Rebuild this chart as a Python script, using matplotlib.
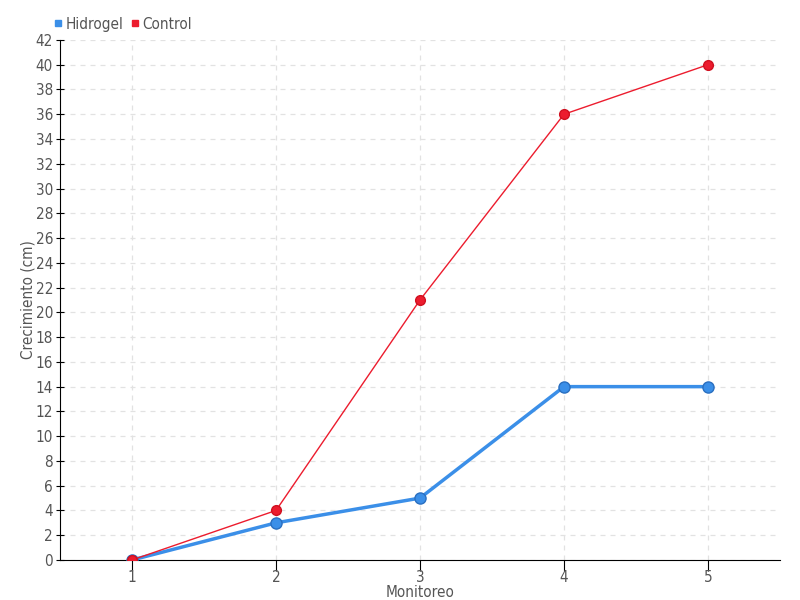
import matplotlib
matplotlib.use("Agg")
import matplotlib.pyplot as plt
from matplotlib.lines import Line2D

monitoreo = [1, 2, 3, 4, 5]
hidrogel = [0, 3, 5, 14, 14]
control = [0, 4, 21, 36, 40]

plt.rcParams["font.family"] = ["DejaVu Sans"]
plt.rcParams["font.stretch"] = "condensed"
txt = "#555555"

fig = plt.figure(figsize=(8, 6), dpi=100)
ax = fig.add_axes([0.075, 0.0667, 0.9, 0.8667])

ax.plot(monitoreo, hidrogel, color="#3b8fe8", lw=2.5, marker="o", ms=8,
        markerfacecolor="#3b8fe8", markeredgecolor="#2a6fc0", markeredgewidth=1, zorder=3)
ax.plot(monitoreo, control, color="#ec1c2e", lw=1, marker="o", ms=7,
        markerfacecolor="#ec1c2e", markeredgecolor="#d01020", zorder=4)

ax.set_xlim(0.5, 5.5)
ax.set_ylim(0, 42)
ax.set_xticks(monitoreo)
ax.set_yticks(range(0, 43, 2))
ax.grid(True, color="#e2e2e2", linestyle=(0, (4, 4)), lw=0.9)
ax.set_axisbelow(True)
for s in ["top", "right"]:
    ax.spines[s].set_visible(False)
ax.spines["left"].set_color("black")
ax.spines["bottom"].set_color("black")
ax.tick_params(axis="x", direction="out", length=8, labelsize=11, labelcolor=txt, pad=-1)
ax.tick_params(axis="y", direction="inout", length=6, labelsize=11, labelcolor=txt, pad=2)

ax.set_xlabel("Monitoreo", fontsize=11, color=txt, labelpad=0)
ax.set_ylabel("Crecimiento (cm)", fontsize=11, color=txt)
ax.yaxis.set_label_coords(-0.034, 0.5)

handles = [
    Line2D([], [], marker="s", ls="", color="#3b8fe8", ms=5),
    Line2D([], [], marker="s", ls="", color="#ec1c2e", ms=5),
]
fig.legend(handles, ["Hidrogel", "Control"], loc="upper left", bbox_to_anchor=(0.05, 0.995),
           ncol=2, frameon=False, handlelength=0.6, handletextpad=0.2, columnspacing=0.4,
           fontsize=11, labelcolor=txt)

fig.savefig("out.png", dpi=100)
